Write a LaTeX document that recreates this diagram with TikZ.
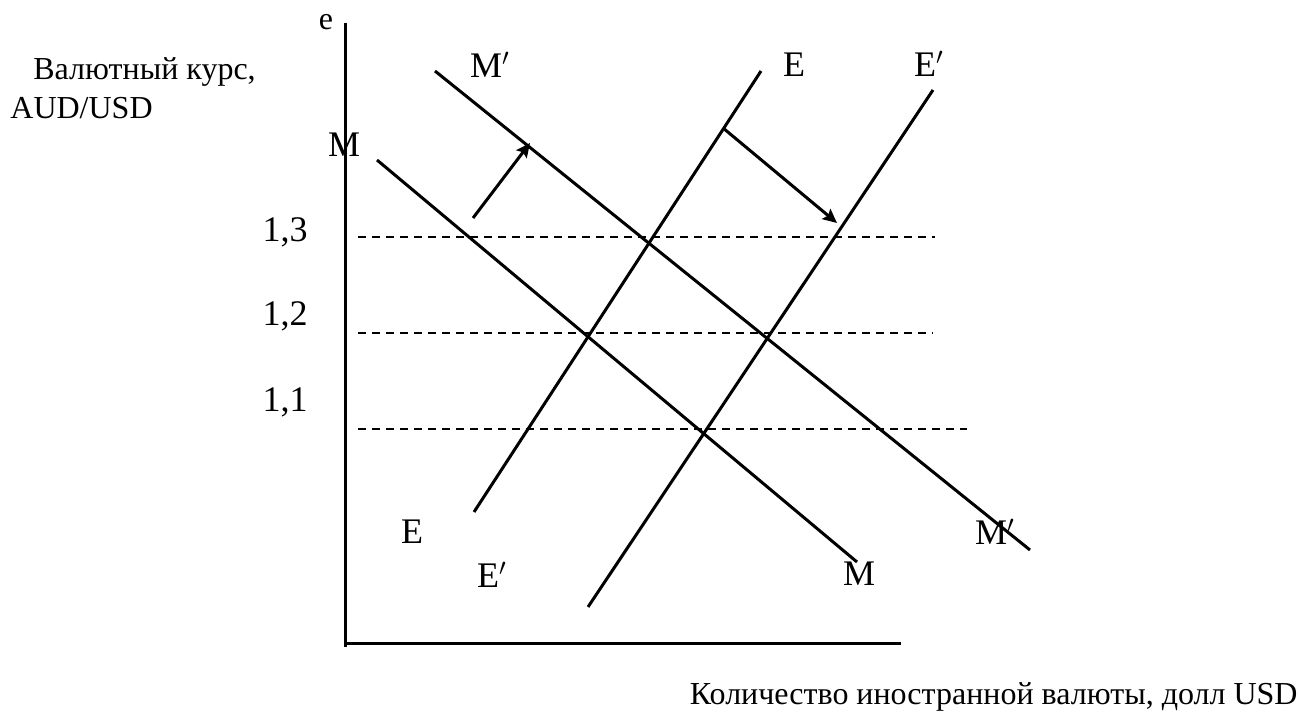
\documentclass[tikz,border=0pt]{standalone}
\usepackage{fontspec}
\setmainfont{Liberation Serif}
\usepackage{tikz}
\usetikzlibrary{arrows.meta}
\tikzset{
	curve/.style={line width=1.5pt, line cap=butt},
	level/.style={line width=0.8pt, dash pattern=on 4pt off 3pt},
	axisline/.style={line width=1.5pt},
	shiftarr/.style={-{Stealth[length=7pt, width=6.5pt, inset=1.2pt]}, line width=1.5pt},
	lbl/.style={inner sep=0pt, font=\fontsize{18}{21}\selectfont},
	axlbl/.style={inner sep=0pt, font=\fontsize{16}{19}\selectfont}
}

\begin{document}
\begin{tikzpicture}[x=0.5pt, y=-0.5pt]
			\useasboundingbox (0,0) rectangle (1300,716);
			% axes
			\coordinate (ytop) at (345,23);
			\coordinate (ybot) at (345,647);
			\coordinate (xorg) at (345,643);
			\coordinate (xend) at (901,643);
			\draw[axisline] (ytop)--(ybot);
			\draw[axisline] (xorg)--(xend);
			\node[axlbl] (e) at (326,22) {e};
			\node[axlbl, anchor=west] (rate1) at (33,72) {Валютный курс,};
			\node[axlbl, anchor=west] (rate2) at (10,108) {AUD/USD};
			\node[axlbl, anchor=east] (qty) at (1298,697) {Количество иностранной валюты, долл USD};
			% exchange rate levels
			\node[lbl] (l13) at (285,232) {1,3};
			\node[lbl] (l12) at (285,316) {1,2};
			\node[lbl] (l11) at (285,402) {1,1};
			\coordinate (a13) at (358,237); \coordinate (b13) at (935,237);
			\coordinate (a12) at (358,333); \coordinate (b12) at (933,333);
			\coordinate (a11) at (358,429); \coordinate (b11) at (967,429);
			\draw[level] (a13)--(b13);
			\draw[level] (a12)--(b12);
			\draw[level] (a11)--(b11);
			% demand M and M'
			\coordinate (m1) at (377,160); \coordinate (m2) at (857,562);
			\coordinate (mp1) at (435,71); \coordinate (mp2) at (1030,550);
			\draw[curve] (m1)--(m2);
			\draw[curve] (mp1)--(mp2);
			% supply E and E'
			\coordinate (e1) at (474,512); \coordinate (e2) at (761,71);
			\coordinate (ep1) at (588,607); \coordinate (ep2) at (933,90);
			\draw[curve] (e1)--(e2);
			\draw[curve] (ep1)--(ep2);
			% curve labels
			\node[lbl] (mtop) at (344,145) {M};
			\node[lbl] (mbot) at (859,574) {M};
			\node[lbl] (mptop) at (490,65) {M$'$};
			\node[lbl] (mpbot) at (995,532) {M$'$};
			\node[lbl] (etop) at (794,65) {E};
			\node[lbl] (ebot) at (412,532) {E};
			\node[lbl] (eptop) at (929,64) {E$'$};
			\node[lbl] (epbot) at (492,575) {E$'$};
			% shifts
			\coordinate (s1) at (473,218); \coordinate (t1) at (530,143);
			\coordinate (s2) at (723,128); \coordinate (t2) at (837,223);
			\draw[shiftarr] (s1)--(t1);
			\draw[shiftarr] (s2)--(t2);
		\end{tikzpicture}
\end{document}
